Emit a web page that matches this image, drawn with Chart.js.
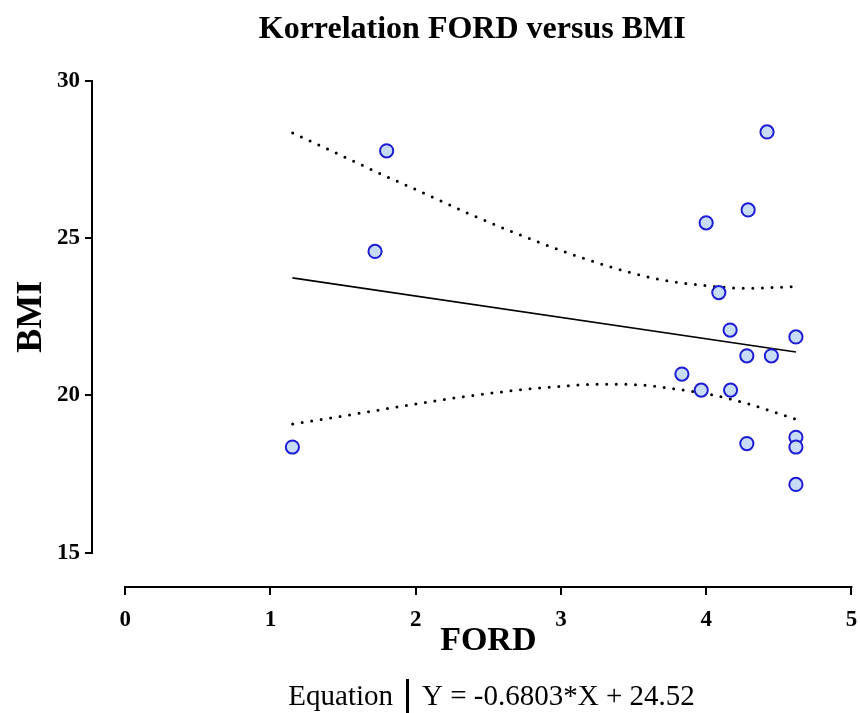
<!DOCTYPE html>
<html>
<head>
<meta charset="utf-8">
<script src="https://cdn.jsdelivr.net/npm/chart.js@4/dist/chart.umd.min.js"></script>
<style>
html,body{margin:0;padding:0;background:#fff;}
#wrap{width:860px;height:713px;position:relative;}
</style>
</head>
<body>
<div id="wrap"><canvas id="c" width="860" height="713"></canvas></div>
<script>
// ---- data ----
const fordValues = [1.151, 1.720, 1.800, 3.833, 3.966, 4.000, 4.087, 4.165, 4.168, 4.419, 4.280, 4.289, 4.280, 4.449, 4.618, 4.618, 4.618, 4.618];
const bmiValues  = [18.36, 24.58, 27.78, 20.68, 20.17, 25.49, 23.27, 22.08, 20.17, 28.38, 21.26, 25.90, 18.47, 21.26, 21.86, 18.67, 18.36, 17.17];

const fitX = [1.151, 4.618];
const fitY = [23.74, 21.38];

const upperBandX = [1.153, 1.451, 1.748, 2.052, 2.356, 2.662, 3.029, 3.348, 3.669, 4.000, 4.264, 4.618];
const upperBandY = [28.35, 27.71, 27.07, 26.44, 25.80, 25.21, 24.56, 24.08, 23.70, 23.49, 23.41, 23.46];
const lowerBandX = [1.153, 1.542, 1.935, 2.329, 2.722, 3.051, 3.252, 3.520, 3.783, 4.041, 4.300, 4.618];
const lowerBandY = [19.09, 19.38, 19.68, 19.96, 20.18, 20.31, 20.36, 20.34, 20.21, 20.02, 19.72, 19.24];

const xTicks = [0, 1, 2, 3, 4, 5];
const yTicks = [15, 20, 25, 30];

const chartTitle = 'Korrelation FORD versus BMI';
const xTitle = 'FORD';
const yTitle = 'BMI';
const eqLabel = 'Equation';
const eqText = 'Y = -0.6803*X + 24.52';

// ---- build ----
const pts = (xs, ys) => xs.map((x, i) => ({x: x, y: ys[i]}));
const SERIF = '"Liberation Serif", "DejaVu Serif", serif';

const extras = {
  id: 'extras',
  afterDraw(chart) {
    const ctx = chart.ctx;
    const xs = chart.scales.x, ys = chart.scales.y;
    ctx.save();
    // axis lines (Prism-style offset axes)
    ctx.strokeStyle = '#000';
    ctx.lineWidth = 2;
    ctx.lineCap = 'butt';
    const ax = Math.round(ys.right) - 1;
    ctx.beginPath();
    ctx.moveTo(ax, ys.getPixelForValue(yTicks[yTicks.length - 1]) - 1);
    ctx.lineTo(ax, ys.getPixelForValue(yTicks[0]) + 1);
    ctx.stroke();
    const ay = Math.round(xs.top) + 1;
    ctx.beginPath();
    ctx.moveTo(xs.getPixelForValue(xTicks[0]) - 1, ay);
    ctx.lineTo(xs.getPixelForValue(xTicks[xTicks.length - 1]) + 1, ay);
    ctx.stroke();

    // axis titles
    ctx.fillStyle = '#000';
    ctx.textAlign = 'center';
    ctx.textBaseline = 'middle';
    ctx.font = 'bold 34px ' + SERIF;
    const fx = (xs.getPixelForValue(xTicks[0]) + xs.getPixelForValue(xTicks[xTicks.length - 1])) / 2;
    ctx.fillText(xTitle, fx, 641);
    const fy = (ys.getPixelForValue(yTicks[0]) + ys.getPixelForValue(yTicks[yTicks.length - 1])) / 2;
    ctx.save();
    ctx.translate(30, fy);
    ctx.rotate(-Math.PI / 2);
    ctx.font = 'bold 36px ' + SERIF;
    ctx.fillText(yTitle, 0, 2);
    ctx.restore();

    // equation legend
    ctx.font = '29px ' + SERIF;
    ctx.textBaseline = 'alphabetic';
    ctx.textAlign = 'right';
    ctx.fillText(eqLabel, 393, 705);
    ctx.textAlign = 'left';
    ctx.fillText(eqText, 422, 705);
    ctx.lineWidth = 3;
    ctx.beginPath();
    ctx.moveTo(407.5, 679);
    ctx.lineTo(407.5, 713);
    ctx.stroke();
    ctx.restore();
  }
};

const bandStyle = {
  type: 'line', showLine: true, pointRadius: 0, pointHoverRadius: 0,
  borderColor: '#000', borderWidth: 3, borderDash: [0, 9.6], borderCapStyle: 'round',
  cubicInterpolationMode: 'monotone', fill: false
};

new Chart(document.getElementById('c'), {
  type: 'scatter',
  data: {
    datasets: [
      {
        label: 'Data', data: pts(fordValues, bmiValues),
        pointRadius: 6.6, pointHoverRadius: 6.6, pointBorderWidth: 2,
        borderColor: '#1c1cd4', backgroundColor: '#c8dcf6'
      },
      {
        label: 'Fit', type: 'line', data: pts(fitX, fitY), showLine: true,
        borderColor: '#000', borderWidth: 1.6, pointRadius: 0, pointHoverRadius: 0, fill: false
      },
      Object.assign({label: 'Upper CI', data: pts(upperBandX, upperBandY)}, bandStyle),
      Object.assign({label: 'Lower CI', data: pts(lowerBandX, lowerBandY)}, bandStyle)
    ]
  },
  options: {
    responsive: false,
    animation: false,
    events: [],
    layout: {padding: {left: 0, right: 3, top: 0, bottom: 52}},
    plugins: {
      legend: {display: false},
      tooltip: {enabled: false},
      title: {
        display: true, text: chartTitle, fullSize: false, color: '#000',
        font: {family: SERIF, size: 32, weight: 'bold'},
        padding: {top: 11, bottom: 31.6}
      }
    },
    scales: {
      x: {
        type: 'linear', min: -0.222, max: 5,
        afterBuildTicks: s => { s.ticks = xTicks.map(v => ({value: v})); },
        afterFit: s => { s.height = 75; s.paddingLeft = 0; s.paddingRight = 0; },
        border: {display: false},
        grid: {display: true, drawOnChartArea: false, drawTicks: true, tickLength: 9, color: '#000', lineWidth: 2},
        ticks: {color: '#000', padding: 11, maxRotation: 0, font: {family: SERIF, size: 23, weight: 'bold'}}
      },
      y: {
        type: 'linear', min: 13.94, max: 30,
        afterBuildTicks: s => { s.ticks = yTicks.map(v => ({value: v})); },
        afterFit: s => { s.width = 93; s.paddingTop = 0; s.paddingBottom = 0; },
        border: {display: false},
        grid: {display: true, drawOnChartArea: false, drawTicks: true, tickLength: 8, color: '#000', lineWidth: 2},
        ticks: {color: '#000', padding: 5, font: {family: SERIF, size: 23, weight: 'bold'}}
      }
    }
  },
  plugins: [extras]
});
</script>
</body>
</html>
